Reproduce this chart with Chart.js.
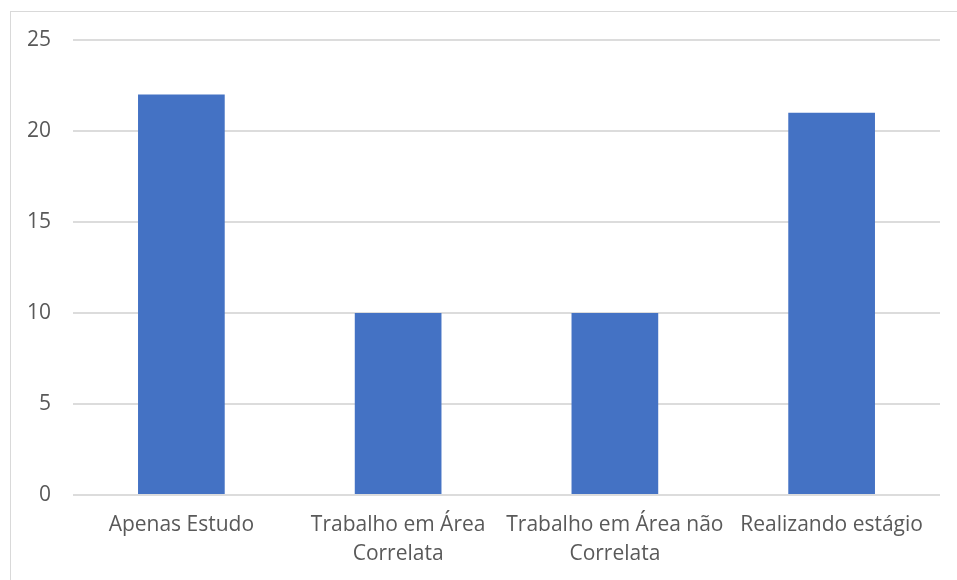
<!DOCTYPE html>
<html>
<head>
<meta charset="utf-8">
<script src="https://cdn.jsdelivr.net/npm/chart.js@4/dist/chart.umd.min.js"></script>
<style>
  html, body { margin: 0; padding: 0; background: #fff; }
  #wrap { position: relative; width: 957px; height: 580px; overflow: hidden; }
  #frame { position: absolute; left: 10px; top: 11px; width: 1200px; height: 800px; border: 1px solid #d9d9d9; box-sizing: border-box; }
  canvas { position: absolute; left: 0; top: 0; }
</style>
</head>
<body>
<div id="wrap">
  <div id="frame"></div>
  <canvas id="c" width="957" height="580"></canvas>
</div>
<script>
const categories = [
  "Apenas Estudo",
  ["Trabalho em Área", "Correlata"],
  ["Trabalho em Área não", "Correlata"],
  "Realizando estágio"
];
const values = [22, 10, 10, 21];
const yTicks = [0, 5, 10, 15, 20, 25];

const font = { family: "'Open Sans', 'Noto Sans', sans-serif", size: 21, lineHeight: 1.4 };

new Chart(document.getElementById('c'), {
  type: 'bar',
  data: {
    labels: categories,
    datasets: [{
      data: values,
      backgroundColor: '#4472c4',
      borderWidth: 0,
      categoryPercentage: 1.0,
      barPercentage: 0.4
    }]
  },
  options: {
    responsive: false,
    animation: false,
    devicePixelRatio: 1,
    layout: { padding: { left: 0, right: 17, top: 40, bottom: 0 } },
    plugins: { legend: { display: false }, tooltip: { enabled: false } },
    scales: {
      x: {
        grid: { display: false, drawTicks: false },
        border: { display: false },
        ticks: { color: '#595959', font: font, padding: 15, maxRotation: 0, autoSkip: false },
        afterFit(scale) { scale.height = 85; }
      },
      y: {
        min: 0, max: 25,
        afterBuildTicks(scale) { scale.ticks = yTicks.map(v => ({ value: v })); },
        grid: { color: '#dcdcdc', lineWidth: 2, drawTicks: false },
        border: { display: false },
        ticks: { color: '#595959', font: font, padding: 22 },
        afterFit(scale) { scale.width = 73; }
      }
    }
  }
});
</script>
</body>
</html>
